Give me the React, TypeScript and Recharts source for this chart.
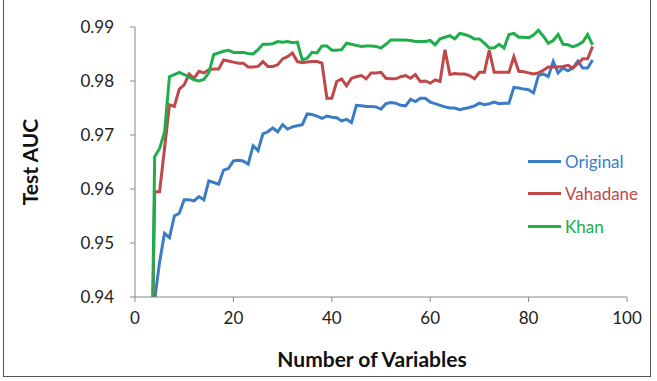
import { LineChart, Line, XAxis, YAxis, Label } from "recharts";

const variables = [
  3, 4, 5, 6, 7, 8, 9, 10, 11, 12, 13, 14, 15, 16, 17, 18, 19, 20, 21, 22, 23, 24, 25, 26, 27, 28, 29, 30, 31, 32,
  33, 34, 35, 36, 37, 38, 39, 40, 41, 42, 43, 44, 45, 46, 47, 48, 49, 50, 51, 52, 53, 54, 55, 56, 57, 58, 59, 60, 61, 62,
  63, 64, 65, 66, 67, 68, 69, 70, 71, 72, 73, 74, 75, 76, 77, 78, 79, 80, 81, 82, 83, 84, 85, 86, 87, 88, 89, 90, 91, 92,
  93,
];

const original = [
  0.9, 0.9395, 0.9465, 0.9518, 0.951, 0.955, 0.9555, 0.958, 0.958, 0.9578, 0.9586, 0.958, 0.9615, 0.9612, 0.9609, 0.9635, 0.9638, 0.9652, 0.9653, 0.9652,
  0.9646, 0.968, 0.9671, 0.9702, 0.9706, 0.9713, 0.9706, 0.9719, 0.9711, 0.9715, 0.9717, 0.9719, 0.9739, 0.9738, 0.9735, 0.9731, 0.9735, 0.9733, 0.9732, 0.9726,
  0.9729, 0.9723, 0.9755, 0.9754, 0.9753, 0.9753, 0.9752, 0.9748, 0.9758, 0.976, 0.9759, 0.9755, 0.9754, 0.9766, 0.9762, 0.9768, 0.9768, 0.9761, 0.9758, 0.9755,
  0.9752, 0.975, 0.975, 0.9747, 0.9749, 0.9751, 0.9754, 0.9759, 0.9756, 0.9758, 0.9761, 0.9758, 0.9759, 0.9759, 0.9788, 0.9787, 0.9785, 0.9784, 0.9778, 0.981,
  0.9813, 0.9808, 0.9836, 0.9815, 0.9824, 0.9819, 0.9824, 0.9837, 0.9824, 0.9824, 0.9839,
];

const vahadane = [
  0.9, 0.9595, 0.9595, 0.9675, 0.9756, 0.9753, 0.9785, 0.9793, 0.9813, 0.9805, 0.9818, 0.9815, 0.9821, 0.9822, 0.9822, 0.9839, 0.9837, 0.9835, 0.9833, 0.9833,
  0.9826, 0.9826, 0.9827, 0.9836, 0.9827, 0.9827, 0.983, 0.9841, 0.9845, 0.9852, 0.9836, 0.9834, 0.9835, 0.9836, 0.9836, 0.9833, 0.9768, 0.9768, 0.9799, 0.9804,
  0.9791, 0.9805, 0.9808, 0.981, 0.9804, 0.9815, 0.9815, 0.9816, 0.9805, 0.9804, 0.9804, 0.9808, 0.981, 0.9805, 0.9812, 0.9799, 0.98, 0.9796, 0.9802, 0.9799,
  0.9858, 0.9812, 0.9814, 0.9813, 0.9813, 0.981, 0.9804, 0.9816, 0.9816, 0.9857, 0.9816, 0.9816, 0.9816, 0.9816, 0.9845, 0.9818, 0.9817, 0.9815, 0.9813, 0.9815,
  0.982, 0.9826, 0.9826, 0.9826, 0.9827, 0.9829, 0.9824, 0.9832, 0.9841, 0.9841, 0.9864,
];

const khan = [
  0.9, 0.966, 0.9675, 0.9705, 0.9808, 0.9812, 0.9816, 0.9812, 0.9807, 0.9802, 0.98, 0.9803, 0.9815, 0.9849, 0.9852, 0.9855, 0.9857, 0.9853, 0.9853, 0.9853,
  0.9851, 0.985, 0.9858, 0.9868, 0.9868, 0.9869, 0.9873, 0.9872, 0.9873, 0.9871, 0.9872, 0.9839, 0.9842, 0.9853, 0.9852, 0.9865, 0.9865, 0.9857, 0.9857, 0.9858,
  0.987, 0.9868, 0.9866, 0.9864, 0.9865, 0.9865, 0.9864, 0.9861, 0.9868, 0.9876, 0.9876, 0.9876, 0.9876, 0.9875, 0.9873, 0.9873, 0.9873, 0.9875, 0.9867, 0.9878,
  0.9881, 0.9884, 0.9878, 0.9888, 0.9886, 0.9883, 0.9878, 0.9878, 0.987, 0.9861, 0.9861, 0.9868, 0.9861, 0.9886, 0.9888, 0.9881, 0.9881, 0.988, 0.9885, 0.9894,
  0.9883, 0.987, 0.9875, 0.9886, 0.9868, 0.9867, 0.9863, 0.9867, 0.9872, 0.9886, 0.9867,
];

const xTicks = [0, 20, 40, 60, 80, 100];
const yTicks = [0.94, 0.95, 0.96, 0.97, 0.98, 0.99];

const series = [
  { key: "Original", values: original, color: "#3b7dc4" },
  { key: "Vahadane", values: vahadane, color: "#c0474a" },
  { key: "Khan", values: khan, color: "#21ad4b" },
];

const data = variables.map((v, i) => {
  const row: Record<string, number> = { n: v };
  series.forEach((s) => (row[s.key] = s.values[i]));
  return row;
});

const font = "Lato, 'Open Sans', sans-serif";

export default function App() {
  return (
    <div style={{ position: "absolute", left: 0, top: 0, width: 657, height: 381, background: "#fff" }}>
      <div
        style={{
          position: "absolute",
          left: 3,
          top: -2,
          width: 648,
          height: 379,
          border: "1px solid #555",
          boxSizing: "border-box",
        }}
      />
      <LineChart width={657} height={381} data={data} margin={{ top: 27, right: 30, left: 0, bottom: 0 }}>
        <XAxis
          dataKey="n"
          type="number"
          domain={[0, 100]}
          ticks={xTicks}
          height={84}
          tickSize={5}
          tickMargin={10}
          stroke="#888"
          tick={{ fill: "#222", fontSize: 17, fontFamily: font }}
        >
          <Label
            content={() => (
              <text x={372} y={367} textAnchor="middle" fontFamily={font} fontWeight="bold" fontSize={21} fill="#111">
                Number of Variables
              </text>
            )}
          />
        </XAxis>
        <YAxis
          type="number"
          domain={[0.94, 0.99]}
          ticks={yTicks}
          allowDataOverflow
          width={135}
          tickSize={5}
          tickMargin={16}
          stroke="#888"
          tickFormatter={(v: number) => v.toFixed(2)}
          tick={{ fill: "#222", fontSize: 17, fontFamily: font }}
        >
          <Label
            content={() => (
              <text
                x={33}
                y={162}
                transform="rotate(-90 33 162)"
                textAnchor="middle"
                dominantBaseline="middle"
                fontFamily={font}
                fontWeight="bold"
                fontSize={21}
                fill="#111"
              >
                Test AUC
              </text>
            )}
          />
        </YAxis>
        {series.map((s) => (
          <Line
            key={s.key}
            dataKey={s.key}
            stroke={s.color}
            strokeWidth={3}
            dot={false}
            isAnimationActive={false}
          />
        ))}
      </LineChart>
      <div style={{ position: "absolute", left: 528, top: 145, fontFamily: font, fontSize: 17 }}>
        {series.map((s) => (
          <div key={s.key} style={{ display: "flex", alignItems: "center", height: 32.5 }}>
            <div style={{ width: 33, height: 3, background: s.color, marginRight: 4 }} />
            <span style={{ color: s.color }}>{s.key}</span>
          </div>
        ))}
      </div>
    </div>
  );
}
